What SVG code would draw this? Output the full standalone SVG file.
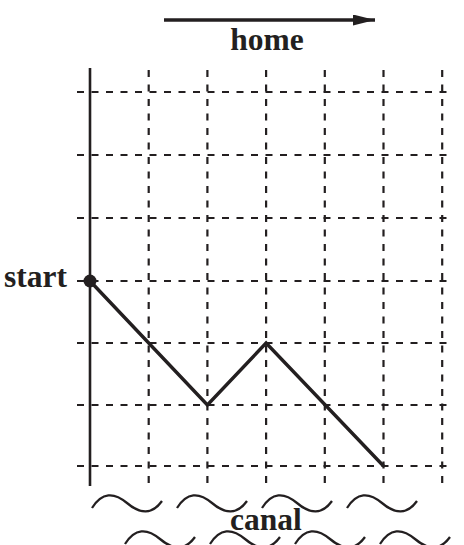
<svg xmlns="http://www.w3.org/2000/svg" width="464" height="545" viewBox="0 0 464 545">
<style>
.grid{stroke:#231f20;stroke-width:2.2;stroke-dasharray:7 7.5;fill:none}
.axis{stroke:#231f20;stroke-width:2.6;fill:none}
.route{stroke:#231f20;stroke-width:3.4;fill:none;stroke-linejoin:miter}
.wave{stroke:#231f20;stroke-width:2.3;fill:none}
.lbl{font-family:"Liberation Serif","Times New Roman",serif;font-weight:bold;font-size:31.5px;fill:#231f20}
</style>
<defs>
<marker id="ah" viewBox="0 0 22 11" refX="22" refY="5.5" markerWidth="22" markerHeight="11" markerUnits="userSpaceOnUse" orient="auto"><path d="M0,0L22,5.5L0,11z" fill="#231f20"/></marker>
<path id="w" class="wave" d="M0,13 C10,-3 22,-3 35,8 S60,20 70,6"/>
</defs>
<g id="grid">
<line class="grid" x1="77" y1="92" x2="448" y2="92"/>
<line class="grid" x1="77" y1="155" x2="448" y2="155"/>
<line class="grid" x1="77" y1="218" x2="448" y2="218"/>
<line class="grid" x1="77" y1="281" x2="448" y2="281"/>
<line class="grid" x1="77" y1="343" x2="448" y2="343"/>
<line class="grid" x1="77" y1="405" x2="448" y2="405"/>
<line class="grid" x1="77" y1="466" x2="448" y2="466"/>
<line class="grid" x1="148.7" y1="70" x2="148.7" y2="490"/>
<line class="grid" x1="207.4" y1="70" x2="207.4" y2="490"/>
<line class="grid" x1="266.1" y1="70" x2="266.1" y2="490"/>
<line class="grid" x1="324.8" y1="70" x2="324.8" y2="490"/>
<line class="grid" x1="383.5" y1="70" x2="383.5" y2="490"/>
<line class="grid" x1="442.2" y1="70" x2="442.2" y2="490"/>
<line class="axis" x1="90" y1="68" x2="90" y2="486"/>
</g>
<g id="connectors">
<line x1="164" y1="20" x2="375" y2="20" stroke="#231f20" stroke-width="3.5" marker-end="url(#ah)"/>
<polyline class="route" points="90,281 207.4,405 266.1,343 383.5,466"/>
</g>
<g id="start">
<circle cx="90" cy="281" r="6.5" fill="#231f20"/>
<text class="lbl" x="4" y="287">start</text>
</g>
<g id="home">
<text class="lbl" x="267" y="50" text-anchor="middle">home</text>
</g>
<g id="canal">
<use href="#w" x="92" y="495"/>
<use href="#w" x="177" y="495"/>
<use href="#w" x="262" y="495"/>
<use href="#w" x="347" y="495"/>
<use href="#w" x="125" y="531"/>
<use href="#w" x="210" y="531"/>
<use href="#w" x="295" y="531"/>
<use href="#w" x="380" y="531"/>
<text class="lbl" x="266" y="530" text-anchor="middle">canal</text>
</g>
</svg>
